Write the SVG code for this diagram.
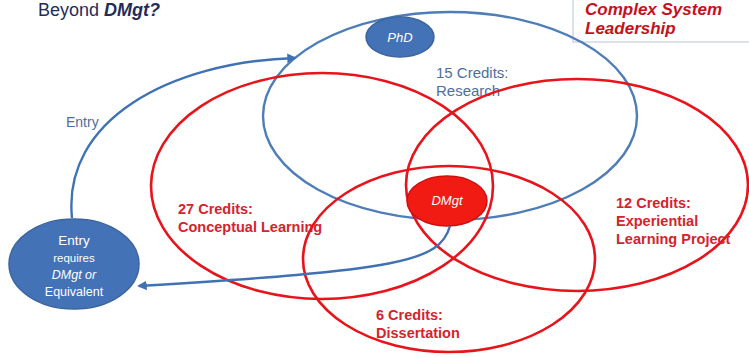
<svg xmlns="http://www.w3.org/2000/svg" width="749" height="357" viewBox="0 0 749 357">
<defs>
<style>
.red-ring{fill:none;stroke:#e8141b;stroke-width:2.6}
.blue-ring{fill:none;stroke:#4f7db8;stroke-width:2.4}
.blue-fill{fill:#4472b6;stroke:#3b659f;stroke-width:1.5}
.red-fill{fill:#f21b14;stroke:#d01010;stroke-width:1.5}
.conn{fill:none;stroke:#3f72b4;stroke-width:2.4}
.lbl{font-family:"Liberation Sans",Arial,sans-serif;font-size:14.5px;font-weight:bold}
.red-t{fill:#d4232e}
.blue-t{fill:#4d6e9e;font-weight:normal;font-size:15px}
.white{fill:#ffffff;font-family:"Liberation Sans",Arial,sans-serif;text-anchor:middle}
.head{font-family:"Liberation Sans",Arial,sans-serif}
</style>
<marker id="ah" viewBox="0 0 10 10" refX="8" refY="5" markerWidth="4" markerHeight="4" orient="auto-start-reverse" markerUnits="strokeWidth">
<path d="M0 0 L10 5 L0 10 z" fill="#3f72b4"/>
</marker>
</defs>
<rect width="749" height="357" fill="#ffffff"/>

<g id="title">
<text class="head" x="38" y="16" font-size="18" fill="#1f2d5a">Beyond <tspan font-weight="bold" font-style="italic">DMgt?</tspan></text>
</g>

<g id="csl-box">
<rect x="573" y="-10" width="190" height="52" fill="#ffffff" stroke="#b8c4d4" stroke-width="1"/>
<text class="head" x="585" y="15" font-size="17" font-weight="bold" font-style="italic" fill="#c4111c">Complex System</text>
<text class="head" x="585" y="34" font-size="17" font-weight="bold" font-style="italic" fill="#c4111c">Leadership</text>
</g>

<g id="research">
<ellipse class="blue-ring" cx="450" cy="116" rx="187" ry="104"/>
<text class="lbl blue-t" x="436" y="78">15 Credits:</text>
<text class="lbl blue-t" x="436" y="96">Research</text>
</g>

<g id="conceptual">
<ellipse class="red-ring" cx="322" cy="186" rx="171" ry="113"/>
<text class="lbl red-t" x="178" y="214">27 Credits:</text>
<text class="lbl red-t" x="178" y="232">Conceptual Learning</text>
</g>

<g id="experiential">
<ellipse class="red-ring" cx="577" cy="185" rx="171" ry="106"/>
<text class="lbl red-t" x="616" y="208">12 Credits:</text>
<text class="lbl red-t" x="616" y="226">Experiential</text>
<text class="lbl red-t" x="616" y="244">Learning Project</text>
</g>

<g id="dissertation">
<ellipse class="red-ring" cx="449" cy="259" rx="146" ry="93"/>
<text class="lbl red-t" x="376" y="320">6 Credits:</text>
<text class="lbl red-t" x="376" y="338">Dissertation</text>
</g>

<g id="phd">
<ellipse class="blue-fill" cx="400" cy="37" rx="34" ry="20"/>
<text class="white" x="400" y="42" font-size="13" font-style="italic">PhD</text>
</g>

<g id="dmgt">
<ellipse class="red-fill" cx="447" cy="201" rx="40" ry="25"/>
<text class="white" x="447" y="205" font-size="13" font-style="italic">DMgt</text>
</g>

<g id="entry">
<ellipse class="blue-fill" cx="74" cy="264" rx="65" ry="45"/>
<text class="white" x="74" y="245" font-size="13.5">Entry</text>
<text class="white" x="74" y="262" font-size="11.5">requires</text>
<text class="white" x="74" y="279" font-size="12.5" font-style="italic">DMgt or</text>
<text class="white" x="74" y="296" font-size="12.5">Equivalent</text>
</g>

<g id="connectors">
<path class="conn" d="M72 218 C62 120 170 62 295 58" marker-end="url(#ah)"/>
<path class="conn" d="M450 226 C440 262 400 270 139 286" marker-end="url(#ah)"/>
<text x="66" y="127" font-family="'Liberation Sans',Arial,sans-serif" font-size="14" fill="#4d6e9e">Entry</text>
</g>
</svg>
